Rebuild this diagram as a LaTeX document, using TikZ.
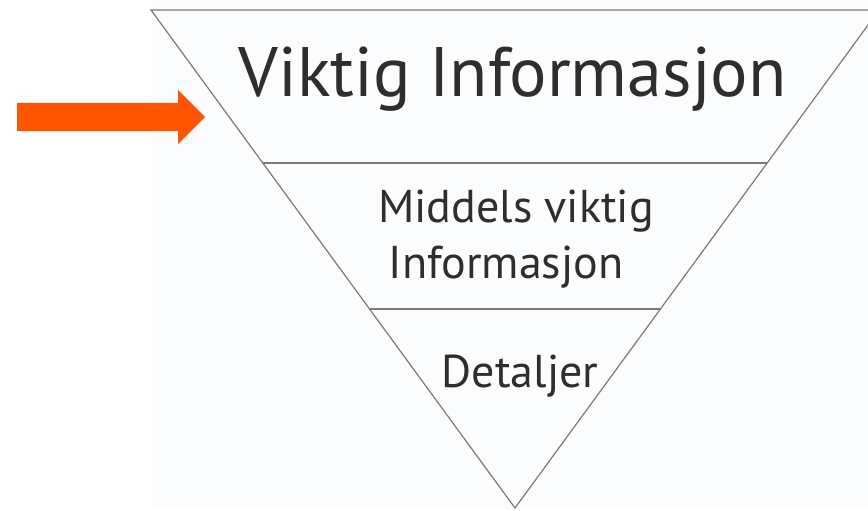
\documentclass[tikz,border=0pt]{standalone}
\usepackage{fontspec}
\setmainfont{PT Sans}
\definecolor{txt}{HTML}{2E2E2E}
\definecolor{edge}{HTML}{7A7A7A}
\definecolor{bg}{HTML}{FBFCFE}
\definecolor{arrowc}{HTML}{FF5500}
\begin{document}
\begin{tikzpicture}[x=1pt,y=-1pt,
  lbl/.style={inner sep=0pt, anchor=base, text=txt},
  edgeline/.style={draw=edge, line width=1.2pt}]
\useasboundingbox (0,0) rectangle (868,511);
\fill[white] (0,0) rectangle (868,511);
\fill[bg] (151,0) rectangle (868,509);
% triangle corners
\coordinate (tl) at (151,10);
\coordinate (tr) at (879,10);
\coordinate (ap) at (515,508);
\coordinate (l1) at (263,163);
\coordinate (r1) at (767,163);
\coordinate (l2) at (370,309);
\coordinate (r2) at (660,309);
\draw[edgeline, line join=miter] (tl) -- (tr) -- (ap) -- cycle;
\draw[edgeline] (l1) -- (r1);
\draw[edgeline] (l2) -- (r2);
% texts
\node[lbl, font=\fontsize{70}{70}\selectfont] (top) at (512.5,96) {Viktig Informasjon};
\node[lbl, font=\fontsize{46}{46}\selectfont] (mid1) at (516,222) {Middels viktig};
\node[lbl, font=\fontsize{46}{46}\selectfont] (mid2) at (506,278) {Informasjon};
\node[lbl, font=\fontsize{46}{46}\selectfont] (det) at (520,387) {Detaljer};
% orange arrow
\fill[arrowc] (17,103) -- (178,103) -- (178,90) -- (205,117) -- (178,144) -- (178,131) -- (17,131) -- cycle;
\end{tikzpicture}
\end{document}
